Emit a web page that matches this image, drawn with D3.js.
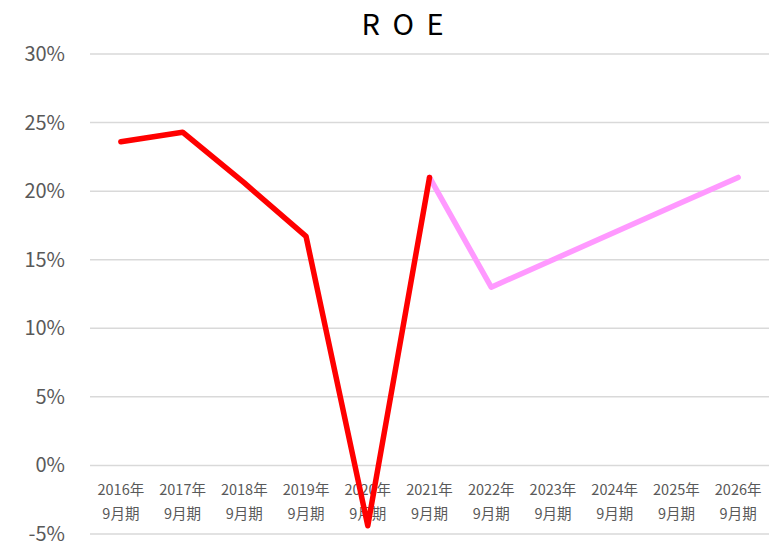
<!DOCTYPE html>
<html>
<head>
<meta charset="utf-8">
<script src="https://cdn.jsdelivr.net/npm/d3@7"></script>
<style>
  body { margin: 0; background: #fff; }
  svg { display: block; }
</style>
</head>
<body>
<div id="chart"></div>
<script>
const width = 769, height = 547

const years = ["2016年", "2017年", "2018年", "2019年", "2020年", "2021年",
    "2022年", "2023年", "2024年", "2025年", "2026年"]
const period = "9月期"
// actual results (red) and plan (pink), in %
const actual = [23.6, 24.3, 20.6, 16.7, -4.4, 21.0, null, null, null, null, null]
const plan = [null, null, null, null, null, 21.0, 13.0, 15.0, 17.0, 19.0, 21.0]
const yTicks = [-5, 0, 5, 10, 15, 20, 25, 30]

const font = "'Noto Sans CJK JP', 'Noto Sans', sans-serif"
const margin = {top: 54, right: 0, bottom: 13, left: 90}

const svg = d3.select("#chart").append("svg")
    .attr("width", width).attr("height", height)

const x = d3.scaleBand()
    .domain(years)
    .range([margin.left, width - margin.right])

const y = d3.scaleLinear()
    .domain([-5, 30])
    .range([height - margin.bottom, margin.top])

// gridlines
svg.append("g")
    .selectAll("line")
    .data(yTicks)
    .join("line")
    .attr("x1", margin.left).attr("x2", width - margin.right)
    .attr("y1", d => y(d)).attr("y2", d => y(d))
    .attr("stroke", "#d9d9d9")
    .attr("stroke-width", 1.5)

// y labels
svg.append("g")
    .selectAll("text")
    .data(yTicks)
    .join("text")
    .attr("x", 65)
    .attr("y", d => y(d))
    .attr("dy", "0.35em")
    .attr("text-anchor", "end")
    .attr("font-family", font)
    .attr("font-size", "20px")
    .attr("fill", "#595959")
    .text(d => d + "%")

// x labels (two lines)
const xl = svg.append("g")
    .selectAll("text")
    .data(years)
    .join("text")
    .attr("text-anchor", "middle")
    .attr("font-family", font)
    .attr("font-size", "14.5px")
    .attr("fill", "#595959")
xl.append("tspan")
    .attr("x", d => x(d) + x.bandwidth() / 2)
    .attr("y", 495)
    .text(d => d)
xl.append("tspan")
    .attr("x", d => x(d) + x.bandwidth() / 2)
    .attr("y", 519)
    .text(period)

const line = d3.line()
    .defined(d => d != null)
    .x((d, i) => x(years[i]) + x.bandwidth() / 2)
    .y(d => y(d))

svg.append("path")
    .datum(plan)
    .attr("d", line)
    .attr("fill", "none")
    .attr("stroke", "#ff99ff")
    .attr("stroke-width", 5.5)
    .attr("stroke-linejoin", "round")
    .attr("stroke-linecap", "round")

svg.append("path")
    .datum(actual)
    .attr("d", line)
    .attr("fill", "none")
    .attr("stroke", "#ff0000")
    .attr("stroke-width", 5.5)
    .attr("stroke-linejoin", "round")
    .attr("stroke-linecap", "round")

// title
svg.append("text")
    .attr("x", 404)
    .attr("y", 35)
    .attr("text-anchor", "middle")
    .attr("font-family", font)
    .attr("font-size", "29px")
    .attr("letter-spacing", "3px")
    .attr("fill", "#000")
    .text("R O E")
</script>
</body>
</html>
